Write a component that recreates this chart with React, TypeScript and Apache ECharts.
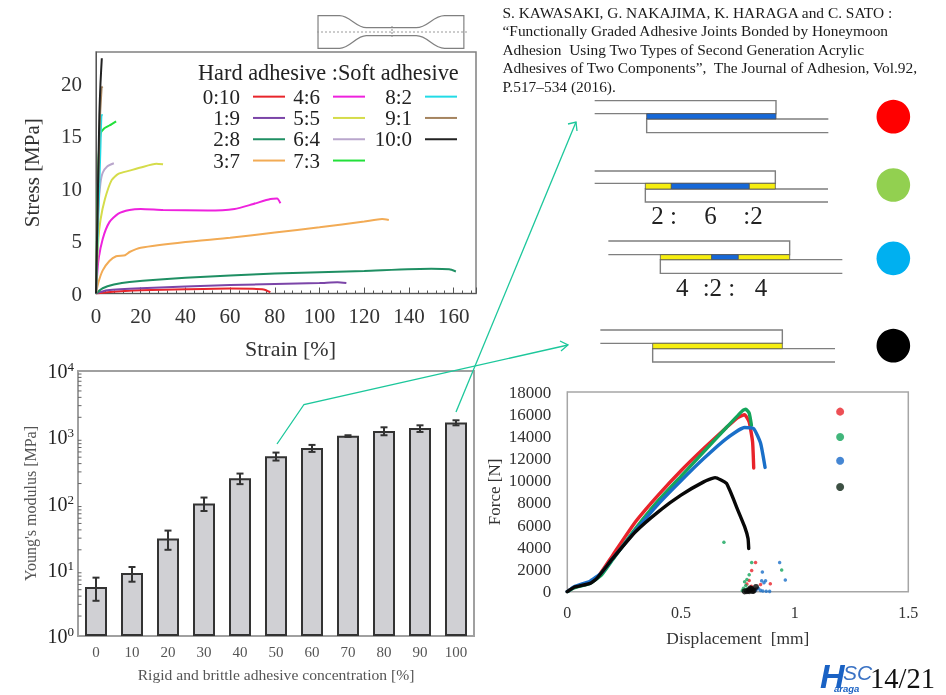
import React, { useEffect, useRef } from "react";
import * as echarts from "echarts";

const SERIF = '"Liberation Serif", serif';

// ---------- Stress / strain chart ----------
const ratio0_10 = [[0,0],[5,0.12],[20,0.3],[40,0.4],[60,0.47],[70,0.45],[75,0.38],[78,0.12]];
const ratio1_9 = [[0,0],[5,0.3],[20,0.5],[60,0.8],[100,1.0],[108,1.08],[112,1.0]];
const ratio2_8 = [[0,0],[3,0.5],[8,0.85],[15,1.1],[40,1.5],[80,1.9],[120,2.15],[150,2.35],[158,2.3],[161,2.1]];
const ratio3_7 = [[0,0],[1,1],[3,2.2],[6,3.1],[9,3.55],[13,3.65],[15,3.95],[20,4.35],[40,4.9],[60,5.3],[80,5.8],[100,6.3],[120,6.85],[128,7.1],[131,7.0]];
const ratio4_6 = [[0,0],[1,3],[3,5.2],[6,6.8],[10,7.6],[15,7.95],[20,8.05],[30,7.95],[50,7.9],[62,8.05],[70,8.5],[78,9],[81,9.05],[82.5,8.6]];
const ratio5_5 = [[0,0],[1,5],[2,7],[4,9],[7,10.8],[10,11.4],[15,11.7],[20,12],[27,12.35],[30,12.3]];
const ratio6_4 = [[0,0],[0.5,5],[1,8],[2,10.5],[3,11.5],[5,12.1],[8,12.4]];
const ratio7_3 = [[0,0],[1,12],[2,15.2],[3.5,15.7],[6,16],[9,16.4]];
const ratio8_2 = [[0,0],[2,14],[2.5,17],[3,17]];
const ratio9_1 = [[0,0],[1.5,15],[2.5,19.6],[3,19.7]];
const ratio10_0 = [[0,0],[1.5,17],[2,20],[2.6,22.4]];
const ratioNames = ["0:10","1:9","2:8","3:7","4:6","5:5","6:4","7:3","8:2","9:1","10:0"];
const ratioColors = ["#e8252b","#7b45a8","#1f8f63","#f2ab55","#ee22dd","#d5dc4a","#b9a6cc","#22e03a","#22dbe6","#a5845f","#222222"];
const ratioData = [ratio0_10,ratio1_9,ratio2_8,ratio3_7,ratio4_6,ratio5_5,ratio6_4,ratio7_3,ratio8_2,ratio9_1,ratio10_0];

// ---------- Young's modulus chart ----------
const concentrations = ["0","10","20","30","40","50","60","70","80","90","100"];
const modulus = [5.5,8.9,29.7,100,241,517,690,1050,1245,1385,1670];
const modulusLow = [3.4,6.6,20,77,196,445,601,1012,1072,1202,1514];
const modulusHigh = [7.6,11,39,123,283,587,766,1072,1413,1514,1803];
const minorMantissas = [2,3,4,5,6,7,8,9];
const decades = [1,10,100,1000];

// ---------- Force / displacement chart ----------
const forceRed = [[0,0],[0.03,400],[0.1,800],[0.14,1500],[0.2,3300],[0.3,6300],[0.4,8700],[0.5,10900],[0.6,12900],[0.7,14800],[0.75,15700],[0.78,15950],[0.8,15300],[0.815,13500],[0.82,11150]];
const forceGreen = [[0,0],[0.03,350],[0.1,750],[0.15,1500],[0.2,2900],[0.3,5700],[0.4,8200],[0.5,10400],[0.6,12600],[0.7,14800],[0.77,16300],[0.785,16450],[0.8,16100],[0.81,15000]];
const forceBlue = [[0,0],[0.03,450],[0.1,950],[0.15,1700],[0.2,3000],[0.3,5500],[0.4,7900],[0.5,10000],[0.6,12000],[0.7,13800],[0.78,14800],[0.82,14700],[0.85,13400],[0.87,11200]];
const forceBlack = [[0,0],[0.03,400],[0.1,750],[0.13,1200],[0.2,3000],[0.3,5400],[0.4,7200],[0.5,8700],[0.6,9900],[0.65,10280],[0.7,9770],[0.75,7360],[0.78,5860],[0.795,4800],[0.798,3900]];
const sparseRed = [[0.828,2640],[0.811,1920],[0.893,720],[0.85,650],[0.8,1000],[0.81,500],[0.83,250],[0.79,700],[0.82,150]];
const sparseGreen = [[0.689,4450],[0.811,2640],[0.943,1950],[0.8,1530],[0.78,900],[0.79,1100],[0.775,300],[0.785,550],[0.8,100],[0.77,100],[0.79,250]];
const sparseBlue = [[0.934,2640],[0.858,1770],[0.959,1050],[0.855,990],[0.872,990],[0.865,800],[0.84,300],[0.85,120],[0.86,60],[0.875,50],[0.89,30],[0.83,150]];
const sparseBlack = [[0.79,50],[0.8,150],[0.81,250],[0.82,100],[0.8,50],[0.83,430],[0.815,60],[0.805,300],[0.78,30]];
const legendDots = [[1.2,16230,"#e8232b"],[1.2,13950,"#12a45a"],[1.2,11810,"#1668c8"],[1.2,9440,"#0c2414"]];

// ---------- Page texts ----------
const referenceLines = [
  "S. KAWASAKI, G. NAKAJIMA, K. HARAGA and C. SATO :",
  "\u201CFunctionally Graded Adhesive Joints Bonded by Honeymoon",
  "Adhesion  Using Two Types of Second Generation Acrylic",
  "Adhesives of Two Components\u201D,  The Journal of Adhesion, Vol.92,",
  "P.517\u2013534 (2016).",
];

const zx = (v: number) => 480 + v / 3;
const zy = (v: number) => v / 3;
const BLUE = "#1668d8", YELLOW = "#f6ee10", GREY = "#7f7f7f", ARROW = "#1cc79b";

function panel(xTop0: number, xTop1: number, yTop: number, yMid: number, yBond: number, yBot: number, xBot0: number, xBot1: number, segs: [number, number, string][]) {
  const line = { stroke: GREY, lineWidth: 1.4, fill: "none" };
  const out: any[] = [
    { type: "polyline", shape: { points: [[zx(xTop0), zy(yTop)], [zx(xTop1), zy(yTop)], [zx(xTop1), zy(yMid)], [zx(xTop0), zy(yMid)]] }, style: line },
    { type: "polyline", shape: { points: [[zx(xBot1), zy(yBond)], [zx(xBot0), zy(yBond)], [zx(xBot0), zy(yBot)], [zx(xBot1), zy(yBot)]] }, style: line },
  ];
  segs.forEach(([a, b, c]) => out.push({ type: "rect", shape: { x: zx(a), y: zy(yMid), width: (b - a) / 3, height: (yBond - yMid) / 3 }, style: { fill: c, stroke: "#555", lineWidth: 0.8 } }));
  return out;
}

const dogbonePath = "M955 47 L1020 47 C1050 47 1070 83 1100 83 L1250 83 C1285 83 1300 47 1335 47 L1393 47 L1393 145 L1335 145 C1300 145 1285 107 1250 107 L1100 107 C1070 107 1050 145 1020 145 L955 145 Z";
echarts.graphic.registerShape("dogbone", (echarts.graphic as any).extendPath(dogbonePath, {}));

function text(t: string, x: number, y: number, size: number, extra: any = {}) {
  return { type: "text", x, y, style: { text: t, fontFamily: SERIF, fontSize: size, fill: "#222", verticalAlign: "middle", ...extra } };
}

function buildGraphic() {
  const els: any[] = [];
  els.push({ type: "dogbone", x: 0, y: 0, scaleX: 1 / 3, scaleY: 1 / 3, style: { fill: "#fff", stroke: "#808080", lineWidth: 3.6 } });
  els.push({ type: "line", shape: { x1: 317, y1: 32, x2: 467, y2: 32 }, style: { stroke: "#999", lineWidth: 1, lineDash: [2, 2] } });
  els.push({ type: "line", shape: { x1: 392, y1: 26, x2: 392, y2: 37 }, style: { stroke: "#888", lineWidth: 1, lineDash: [2, 1] } });

  els.push(text("Hard adhesive :Soft adhesive", 198, 72, 22.3));

  referenceLines.forEach((l, i) => els.push(text(l, 502.5, 12 + i * 18.6, 15.4, { fill: "#1a1a1a" })));

  els.push(...panel(344, 888, 302, 341, 357, 398, 500, 1045, [[500, 888, BLUE]]));
  els.push(...panel(344, 886, 513, 550, 567, 606, 496, 1044, [[496, 574, YELLOW], [574, 808, BLUE], [808, 886, YELLOW]]));
  els.push(...panel(385, 929, 723, 764, 779, 820, 541, 1087, [[541, 695, YELLOW], [695, 775, BLUE], [775, 929, YELLOW]]));
  els.push(...panel(361, 907, 990, 1030, 1046, 1086, 518, 1065, [[518, 907, YELLOW]]));

  [[350, "#ff0000"], [555, "#92d050"], [775, "#00b0f0"], [1037, "#000000"]].forEach(([cy, c]) =>
    els.push({ type: "circle", shape: { cx: zx(1240), cy: zy(cy as number), r: 16.8 }, style: { fill: c as string } }));

  els.push(text("2 :", zx(514), zy(647), 25), text("6", zx(673), zy(647), 25), text(":2", zx(790), zy(647), 25));
  els.push(text("4", zx(588), zy(862), 25), text(":2 :", zx(668), zy(862), 25), text("4", zx(824), zy(862), 25));

  const arrow = { stroke: ARROW, lineWidth: 1.3, fill: "none" };
  els.push({ type: "polyline", shape: { points: [[456, 412], [576, 122]] }, style: arrow, z: 50 });
  els.push({ type: "polyline", shape: { points: [[568, 124], [576, 122], [577, 131]] }, style: arrow, z: 50 });
  els.push({ type: "polyline", shape: { points: [[277, 444], [304, 404.5], [568, 345]] }, style: arrow, z: 50 });
  els.push({ type: "polyline", shape: { points: [[560, 341], [568, 345], [561, 351]] }, style: arrow, z: 50 });

  const SANS = '"Liberation Sans", sans-serif';
  els.push(text("H", 820, 676, 34, { fontWeight: "bold", fontStyle: "italic", fill: "#1a62c4", fontFamily: SANS }));
  els.push(text("SC", 843, 672, 21, { fontStyle: "italic", fill: "#3a72c4", fontFamily: SANS }));
  els.push(text("araga", 834, 688, 9.5, { fontStyle: "italic", fontWeight: "bold", fill: "#1a62c4", fontFamily: SANS }));
  els.push(text("14/21", 870, 678, 28.5, { fill: "#111" }));
  return els;
}

const labelStyle = (size: number, color: string) => ({ fontFamily: SERIF, fontSize: size, color });

function legendColumn(names: string[], left: number, top: number, width: number) {
  return {
    show: true, orient: "vertical", align: "right", left, top, padding: 0, itemGap: 0,
    itemWidth: 32, itemHeight: 21.3, selectedMode: false, data: names,
    itemStyle: { opacity: 0 },
    textStyle: { fontFamily: SERIF, fontSize: 21, color: "#222", width, align: "right", padding: [0, 8, 0, 0], lineHeight: 21.3 },
  };
}

function buildOption(): any {
  const series: any[] = [];
  ratioNames.forEach((n, i) => series.push({
    name: n, type: "line", xAxisIndex: 0, yAxisIndex: 0, data: ratioData[i], symbol: "none", showSymbol: false, smooth: 0.2,
    lineStyle: { color: ratioColors[i], width: 2 }, itemStyle: { color: ratioColors[i] },
  }));

  series.push({ name: "modulus", type: "bar", xAxisIndex: 1, yAxisIndex: 1, data: modulus, barWidth: 22, itemStyle: { color: "#d0d0d4", borderColor: "#333", borderWidth: 2 } });
  series.push({
    name: "modulus error", type: "custom", xAxisIndex: 1, yAxisIndex: 1, z: 5,
    encode: { x: 0, y: [1, 2] },
    data: concentrations.map((_, i) => [i, modulusLow[i], modulusHigh[i]]),
    renderItem: (_: any, api: any) => {
      const a = api.coord([api.value(0), api.value(1)]), b = api.coord([api.value(0), api.value(2)]);
      const s = { stroke: "#333", lineWidth: 2, fill: "none" };
      return { type: "group", children: [
        { type: "line", shape: { x1: a[0], y1: a[1], x2: b[0], y2: b[1] }, style: s },
        { type: "line", shape: { x1: a[0] - 3.5, y1: a[1], x2: a[0] + 3.5, y2: a[1] }, style: s },
        { type: "line", shape: { x1: b[0] - 3.5, y1: b[1], x2: b[0] + 3.5, y2: b[1] }, style: s },
      ] };
    },
  });
  series.push({
    name: "log minor ticks", type: "custom", xAxisIndex: 1, yAxisIndex: 1, silent: true,
    encode: { y: 1 },
    data: decades.flatMap((d) => minorMantissas.map((m) => [0, d * m])),
    renderItem: (p: any, api: any) => {
      const c = api.coord([0, api.value(1)]);
      return { type: "line", shape: { x1: p.coordSys.x, y1: c[1], x2: p.coordSys.x + 3.5, y2: c[1] }, style: { stroke: "#666", lineWidth: 1 } };
    },
  });

  const dotted = (name: string, data: any[], color: string) => ({
    name, type: "line", xAxisIndex: 2, yAxisIndex: 2, data, symbol: "none", showSymbol: false, smooth: 0.15,
    lineStyle: { color, width: 3.4, cap: "round", join: "round" },
  });
  const sparse = (name: string, data: any[], color: string, size = 3.5) => ({
    name, type: "scatter", xAxisIndex: 2, yAxisIndex: 2, data, symbolSize: size, itemStyle: { color },
  });
  series.push(dotted("Force red", forceRed, "#e8232b"));
  series.push(dotted("Force green", forceGreen, "#14a55b"));
  series.push(dotted("Force blue", forceBlue, "#1a6fc8"));
  series.push(dotted("Force black", forceBlack, "#080808"));
  series.push(sparse("Red points", sparseRed, "#e8232b"));
  series.push(sparse("Green points", sparseGreen, "#14a55b"));
  series.push(sparse("Blue points", sparseBlue, "#1a6fc8"));
  series.push(sparse("Black points", sparseBlack, "#080808", 6));
  series.push({
    name: "Key", type: "scatter", xAxisIndex: 2, yAxisIndex: 2, symbolSize: 8,
    data: legendDots.map(([x, y, c]) => ({ value: [x, y], itemStyle: { color: c } })),
  });

  return {
    animation: false,
    backgroundColor: "#ffffff",
    grid: [
      { left: 96, top: 52, width: 380, height: 241.5, show: true, borderColor: "#808080", borderWidth: 1.5, backgroundColor: "transparent" },
      { left: 78, top: 371, width: 396, height: 265, show: true, borderColor: "#a0a0a0", borderWidth: 2, backgroundColor: "transparent" },
      { left: 567.3, top: 392, width: 341, height: 199.7, show: true, borderColor: "#a6a6a6", borderWidth: 1.5, backgroundColor: "transparent" },
    ],
    xAxis: [
      {
        gridIndex: 0, type: "value", min: 0, max: 170, interval: 20,
        axisLine: { lineStyle: { color: "#555" } },
        axisTick: { inside: true, length: 6, lineStyle: { color: "#555" } },
        minorTick: { show: true, splitNumber: 5, length: 3, lineStyle: { color: "#555" } },
        splitLine: { show: false },
        axisLabel: { ...labelStyle(21, "#333"), margin: 12, showMaxLabel: false },
        name: "Strain [%]", nameLocation: "middle", nameGap: 44, nameTextStyle: { ...labelStyle(22, "#333"), padding: [0, 0, 0, 9] },
      },
      {
        gridIndex: 1, type: "category", data: concentrations,
        axisLine: { lineStyle: { color: "#a0a0a0", width: 2 } }, axisTick: { show: false },
        axisLabel: { ...labelStyle(15, "#555"), margin: 8, interval: 0 },
        name: "Rigid and brittle adhesive concentration [%]", nameLocation: "middle", nameGap: 30, nameTextStyle: labelStyle(15.6, "#555"),
      },
      {
        gridIndex: 2, type: "value", min: 0, max: 1.5, interval: 0.5,
        axisLine: { lineStyle: { color: "#a6a6a6" } }, axisTick: { show: false }, splitLine: { show: false },
        axisLabel: { ...labelStyle(16, "#333"), margin: 13 },
        name: "Displacement  [mm]", nameLocation: "middle", nameGap: 38, nameTextStyle: labelStyle(17.4, "#333"),
      },
    ],
    yAxis: [
      {
        gridIndex: 0, type: "value", min: 0, max: 23, interval: 5,
        axisLine: { lineStyle: { color: "#555" } }, axisTick: { show: false }, splitLine: { show: false },
        axisLabel: { ...labelStyle(21, "#333"), margin: 14, showMaxLabel: false },
        name: "Stress [MPa]", nameLocation: "middle", nameGap: 54, nameTextStyle: labelStyle(21, "#333"),
      },
      {
        gridIndex: 1, type: "log", logBase: 10, min: 1, max: 10000,
        axisLine: { lineStyle: { color: "#a0a0a0", width: 2 } },
        axisTick: { inside: true, length: 6, lineStyle: { color: "#666" } }, splitLine: { show: false },
        axisLabel: {
          ...labelStyle(20, "#222"), margin: 4,
          formatter: (v: number) => `10{s|${Math.round(Math.log10(v))}}`,
          rich: { s: { fontFamily: SERIF, fontSize: 13, color: "#222", padding: [0, 0, 9, 0] } },
        },
        name: "Young's modulus [MPa]", nameLocation: "middle", nameGap: 40, nameTextStyle: labelStyle(16, "#555"),
      },
      {
        gridIndex: 2, type: "value", min: 0, max: 18000, interval: 2000,
        axisLine: { lineStyle: { color: "#a6a6a6" } }, axisTick: { show: false }, splitLine: { show: false },
        axisLabel: { ...labelStyle(17, "#333"), margin: 16, formatter: (v: number) => String(v) },
        name: "Force [N]", nameLocation: "middle", nameGap: 64, nameTextStyle: labelStyle(17, "#333"),
      },
    ],
    legend: [
      legendColumn(ratioNames.slice(0, 4), 200, 86, 40),
      legendColumn(ratioNames.slice(4, 8), 280, 86, 40),
      legendColumn(ratioNames.slice(8), 372, 86, 40),
    ],
    graphic: { elements: buildGraphic() },
    series,
  };
}

export default function App() {
  const ref = useRef<HTMLDivElement>(null);
  useEffect(() => {
    const chart = echarts.init(ref.current!, undefined, { renderer: "svg" });
    chart.setOption(buildOption());
    return () => chart.dispose();
  }, []);
  return <div ref={ref} style={{ position: "absolute", left: 0, top: 0, width: 946, height: 695, background: "#fff", filter: "blur(0.4px)" }} />;
}
